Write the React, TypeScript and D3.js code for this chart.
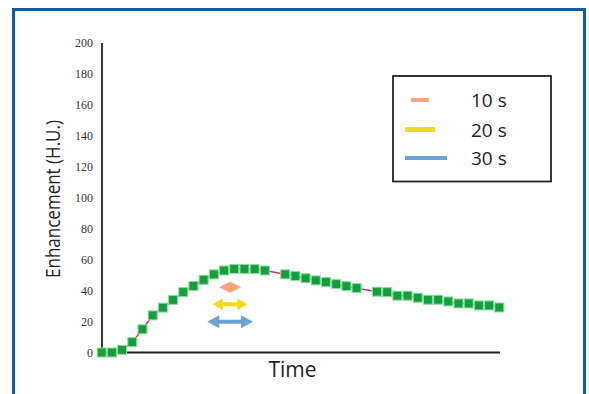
import React, { useEffect, useRef } from "react";
import * as d3 from "d3";

// time index (sampling step) and enhancement in H.U.
const times = [
  0, 1, 2, 3, 4, 5, 6, 7, 8, 9, 10, 11, 12, 13, 14, 15, 16, 18, 19, 20, 21,
  22, 23, 24, 25, 27, 28, 29, 30, 31, 32, 33, 34, 35, 36, 37, 38, 39,
];
const enhancement = [
  0, 0, 1.7, 6.7, 15, 24, 29, 34, 39, 43, 47, 50.5, 53, 54, 54, 54, 53, 50.5,
  49.4, 48, 46.6, 45.5, 44.2, 42.9, 41.6, 39.3, 39, 36.7, 36.7, 35.4, 34.1,
  34.1, 33, 31.7, 31.7, 30.4, 30.4, 29.1,
];
const yTicks = [0, 20, 40, 60, 80, 100, 120, 140, 160, 180, 200];

// annotation arrows: centre time, half width (time units), level (H.U.)
const legendLabels = ["10 s", "20 s", "30 s"];
const legendColors = ["#f6a57c", "#f2da1c", "#68a5d3"];
const legendLens = [18, 30, 42];
const arrowCenter = [12.6, 12.6, 12.6];
const arrowHalf = [1.1, 1.7, 2.25];
const arrowLevel = [42.2, 31.2, 19.8];

export default function App() {
  const ref = useRef<SVGSVGElement>(null);

  useEffect(() => {
    const svg = d3.select(ref.current);
    svg.selectAll("*").remove();

    // blue frame
    svg
      .append("rect")
      .attr("x", 13.5)
      .attr("y", 9.5)
      .attr("width", 571)
      .attr("height", 420)
      .attr("fill", "white")
      .attr("stroke", "#0b5ba6")
      .attr("stroke-width", 3);

    const x = d3.scaleLinear().domain([0, 39]).range([101.7, 499.3]);
    const y = d3.scaleLinear().domain([0, 200]).range([352.5, 43]);

    // axes lines
    svg
      .append("line")
      .attr("x1", 102)
      .attr("x2", 102)
      .attr("y1", y(200))
      .attr("y2", y(0))
      .attr("stroke", "#222")
      .attr("stroke-width", 1.8);
    svg
      .append("line")
      .attr("x1", 101)
      .attr("x2", 500)
      .attr("y1", y(0))
      .attr("y2", y(0))
      .attr("stroke", "#222")
      .attr("stroke-width", 1.8);

    svg
      .append("g")
      .selectAll("text")
      .data(yTicks)
      .enter()
      .append("text")
      .attr("x", 93)
      .attr("y", (d) => y(d))
      .attr("dy", "0.35em")
      .attr("text-anchor", "end")
      .attr("font-family", "'Liberation Serif', serif")
      .attr("font-size", 12)
      .attr("fill", "#333")
      .text((d) => d);

    svg
      .append("text")
      .attr("transform", `translate(60,199) rotate(-90)`)
      .attr("text-anchor", "middle")
      .attr("font-family", "'Open Sans', sans-serif")
      .attr("font-size", 20.5)
      .attr("textLength", 158)
      .attr("lengthAdjust", "spacingAndGlyphs")
      .attr("fill", "#222")
      .text("Enhancement (H.U.)");

    svg
      .append("text")
      .attr("x", 292.5)
      .attr("y", 377)
      .attr("text-anchor", "middle")
      .attr("font-family", "'Open Sans', sans-serif")
      .attr("font-size", 21)
      .attr("fill", "#222")
      .text("Time");

    // curve
    const pts = times.map((t, i) => [t, enhancement[i]] as [number, number]);
    const line = d3
      .line<[number, number]>()
      .x((d) => x(d[0]))
      .y((d) => y(d[1]));
    svg
      .append("path")
      .attr("d", line(pts))
      .attr("fill", "none")
      .attr("stroke", "#e0306a")
      .attr("stroke-width", 1.5);

    svg
      .append("g")
      .selectAll("rect")
      .data(pts)
      .enter()
      .append("rect")
      .attr("x", (d) => x(d[0]) - 4.5)
      .attr("y", (d) => y(d[1]) - 4.5)
      .attr("width", 9)
      .attr("height", 9)
      .attr("fill", "#13a03c")
      .attr("stroke", "#8fdca4")
      .attr("stroke-width", 1);

    // annotation: orange diamond
    const cx0 = x(arrowCenter[0]);
    const hw0 = x(arrowCenter[0] + arrowHalf[0]) - cx0;
    const cy0 = y(arrowLevel[0]);
    svg
      .append("path")
      .attr(
        "d",
        `M${cx0 - hw0},${cy0}L${cx0},${cy0 - 5.5}L${cx0 + hw0},${cy0}L${cx0},${cy0 + 5.5}Z`
      )
      .attr("fill", legendColors[0]);

    // double arrows
    [1, 2].forEach((i) => {
      const c = x(arrowCenter[i]);
      const hw = x(arrowCenter[i] + arrowHalf[i]) - c;
      const cy = y(arrowLevel[i]);
      const hl = i === 1 ? 10 : 12;
      const hh = i === 1 ? 6 : 6.5;
      const sh = 2;
      const l = c - hw;
      const r = c + hw;
      svg
        .append("path")
        .attr(
          "d",
          `M${l},${cy}L${l + hl},${cy - hh}L${l + hl},${cy - sh}L${r - hl},${cy - sh}L${r - hl},${cy - hh}L${r},${cy}L${r - hl},${cy + hh}L${r - hl},${cy + sh}L${l + hl},${cy + sh}L${l + hl},${cy + hh}Z`
        )
        .attr("fill", legendColors[i]);
    });

    // legend
    const lg = svg.append("g");
    lg.append("rect")
      .attr("x", 393)
      .attr("y", 76)
      .attr("width", 158)
      .attr("height", 105.5)
      .attr("fill", "white")
      .attr("stroke", "#222")
      .attr("stroke-width", 1.8);
    const rows = [100, 129.5, 158];
    legendLabels.forEach((lab, i) => {
      const cx = 420 + (i === 2 ? 6 : 0);
      lg.append("line")
        .attr("x1", cx - legendLens[i] / 2)
        .attr("x2", cx + legendLens[i] / 2)
        .attr("y1", rows[i])
        .attr("y2", rows[i])
        .attr("stroke", legendColors[i])
        .attr("stroke-width", i === 1 ? 5 : 4);
      lg.append("text")
        .attr("x", 471)
        .attr("y", rows[i] + 7)
        .attr("font-family", "'Open Sans', sans-serif")
        .attr("font-size", 19)
        .attr("fill", "#222")
        .text(lab);
    });
  }, []);

  return (
    <svg
      ref={ref}
      width={589}
      height={394}
      style={{ position: "absolute", left: 0, top: 0, background: "white" }}
    />
  );
}
